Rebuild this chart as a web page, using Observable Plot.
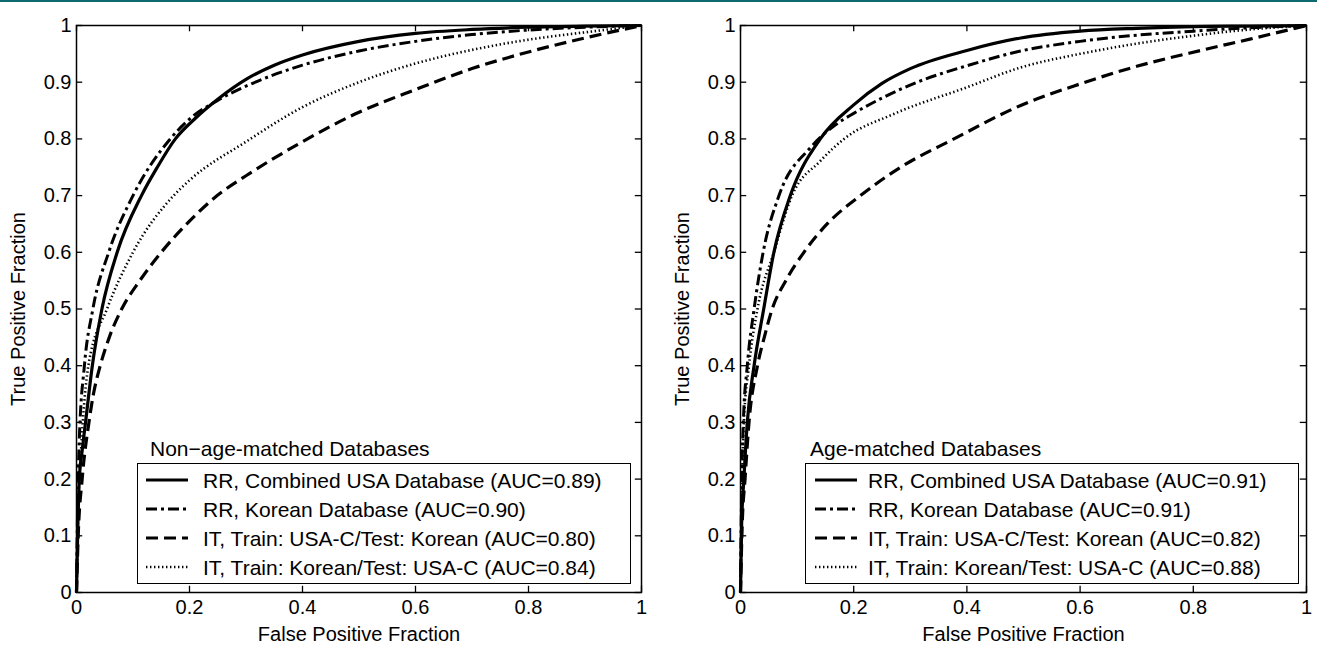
<!DOCTYPE html>
<html>
<head>
<meta charset="utf-8">
<script src="https://cdn.jsdelivr.net/npm/d3@7"></script>
<script src="https://cdn.jsdelivr.net/npm/@observablehq/plot@0.6"></script>
<style>
  html, body { margin: 0; padding: 0; background: #fff; }
  #wrap { position: relative; width: 1317px; height: 648px; overflow: hidden; background: #fff;
          font-family: "Liberation Sans", Arial, Helvetica, sans-serif; color: #000; }
  #topline { position: absolute; left: 0; top: 0; width: 1317px; height: 2px; background: #0d6a71; }
  .panel { position: absolute; top: 0; }
  .legend-title { position: absolute; font-size: 21px; white-space: nowrap; line-height: 1; }
  .legend-box { position: absolute; border: 1.4px solid #000; background: #fff; box-sizing: border-box; }
  .legend-row { position: absolute; height: 24px; display: flex; align-items: center;
                font-size: 21px; white-space: nowrap; line-height: 1; }
  .legend-row svg { display: block; }
</style>
</head>
<body>
<div id="wrap"><div id="topline"></div></div>
<script>
// ---------- axis / text data ----------
const xTicks = [0, 0.2, 0.4, 0.6, 0.8, 1];
const yTicks = [0, 0.1, 0.2, 0.3, 0.4, 0.5, 0.6, 0.7, 0.8, 0.9, 1];
const xLabel = "False Positive Fraction";
const yLabel = "True Positive Fraction";
const seriesKeys = ["rrCombined", "rrKorean", "itUsaTrain", "itKoreanTrain"];

const leftTitle = "Non\u2212age-matched Databases";
const leftLabels = [
  "RR, Combined USA Database (AUC=0.89)",
  "RR, Korean Database (AUC=0.90)",
  "IT, Train: USA-C/Test: Korean (AUC=0.80)",
  "IT, Train: Korean/Test: USA-C (AUC=0.84)"
];
const rightTitle = "Age-matched Databases";
const rightLabels = [
  "RR, Combined USA Database (AUC=0.91)",
  "RR, Korean Database (AUC=0.91)",
  "IT, Train: USA-C/Test: Korean (AUC=0.82)",
  "IT, Train: Korean/Test: USA-C (AUC=0.88)"
];

// ---------- Non-age-matched (left) ----------
const nmCombinedFpf = [0, 0.002, 0.005, 0.01, 0.016, 0.028, 0.045, 0.072, 0.115, 0.143, 0.175, 0.21, 0.25, 0.3, 0.35, 0.4, 0.5, 0.6, 0.7, 0.8, 0.9, 1];
const nmCombinedTpf = [0, 0.1, 0.2, 0.25, 0.3, 0.4, 0.5, 0.6, 0.7, 0.75, 0.8, 0.836, 0.87, 0.905, 0.93, 0.948, 0.972, 0.986, 0.993, 0.997, 0.999, 1];

const nmKoreanFpf = [0, 0.002, 0.005, 0.014, 0.029, 0.057, 0.1, 0.166, 0.2, 0.25, 0.3, 0.4, 0.5, 0.6, 0.7, 0.8, 0.9, 1];
const nmKoreanTpf = [0, 0.15, 0.27, 0.4, 0.5, 0.6, 0.7, 0.8, 0.835, 0.868, 0.893, 0.93, 0.955, 0.972, 0.984, 0.992, 0.997, 1];

const nmUsaTrainFpf = [0, 0.003, 0.01, 0.022, 0.03, 0.042, 0.058, 0.08, 0.112, 0.15, 0.2, 0.249, 0.3, 0.391, 0.5, 0.6, 0.7, 0.81, 0.9, 1];
const nmUsaTrainTpf = [0, 0.1, 0.2, 0.3, 0.35, 0.4, 0.45, 0.5, 0.55, 0.6, 0.655, 0.7, 0.735, 0.79, 0.847, 0.887, 0.924, 0.956, 0.978, 1];

const nmKoreanTrainFpf = [0, 0.003, 0.008, 0.021, 0.054, 0.1, 0.172, 0.2, 0.3, 0.4, 0.5, 0.6, 0.7, 0.8, 0.9, 1];
const nmKoreanTrainTpf = [0, 0.15, 0.25, 0.4, 0.5, 0.6, 0.7, 0.727, 0.795, 0.856, 0.9, 0.933, 0.957, 0.975, 0.988, 1];

// ---------- Age-matched (right) ----------
const amCombinedFpf = [0, 0.002, 0.006, 0.012, 0.024, 0.041, 0.059, 0.088, 0.141, 0.2, 0.25, 0.3, 0.4, 0.495, 0.6, 0.7, 0.8, 0.9, 1];
const amCombinedTpf = [0, 0.12, 0.2, 0.3, 0.4, 0.5, 0.6, 0.7, 0.8, 0.86, 0.898, 0.924, 0.956, 0.978, 0.99, 0.995, 0.998, 0.999, 1];

const amKoreanFpf = [0, 0.002, 0.005, 0.012, 0.024, 0.04, 0.068, 0.124, 0.171, 0.2, 0.25, 0.312, 0.4, 0.495, 0.6, 0.7, 0.8, 0.9, 1];
const amKoreanTpf = [0, 0.18, 0.3, 0.4, 0.5, 0.6, 0.7, 0.785, 0.827, 0.845, 0.872, 0.9, 0.929, 0.955, 0.972, 0.983, 0.99, 0.996, 1];

const amUsaTrainFpf = [0, 0.003, 0.008, 0.015, 0.03, 0.042, 0.056, 0.08, 0.112, 0.153, 0.212, 0.283, 0.377, 0.495, 0.6, 0.7, 0.813, 0.9, 1];
const amUsaTrainTpf = [0, 0.12, 0.2, 0.3, 0.4, 0.45, 0.5, 0.55, 0.6, 0.65, 0.7, 0.75, 0.8, 0.859, 0.897, 0.928, 0.956, 0.976, 1];

const amKoreanTrainFpf = [0, 0.002, 0.006, 0.015, 0.03, 0.059, 0.091, 0.14, 0.183, 0.271, 0.4, 0.495, 0.6, 0.7, 0.8, 0.9, 1];
const amKoreanTrainTpf = [0, 0.15, 0.3, 0.4, 0.5, 0.6, 0.7, 0.76, 0.8, 0.844, 0.891, 0.926, 0.95, 0.968, 0.982, 0.993, 1];

// ---------- styles (kept apart from data) ----------
const lineStyles = {
  rrCombined:    { width: 3.2, dash: null },
  rrKorean:      { width: 3,   dash: "11,4,3,4" },
  itUsaTrain:    { width: 3.2, dash: "12,6" },
  itKoreanTrain: { width: 2.6, dash: "1.4,2.6" }
};

const FONT = '"Liberation Sans", Arial, Helvetica, sans-serif';

function table(fpf, tpf) { return fpf.map((f, i) => ({ fpf: f, tpf: tpf[i] })); }

const leftSeries = {
  rrCombined: table(nmCombinedFpf, nmCombinedTpf),
  rrKorean: table(nmKoreanFpf, nmKoreanTpf),
  itUsaTrain: table(nmUsaTrainFpf, nmUsaTrainTpf),
  itKoreanTrain: table(nmKoreanTrainFpf, nmKoreanTrainTpf)
};
const rightSeries = {
  rrCombined: table(amCombinedFpf, amCombinedTpf),
  rrKorean: table(amKoreanFpf, amKoreanTpf),
  itUsaTrain: table(amUsaTrainFpf, amUsaTrainTpf),
  itKoreanTrain: table(amKoreanTrainFpf, amKoreanTrainTpf)
};

const fmt = d => String(d);
const tickLen = 0.011;

function makePlot(series, layout) {
  const marks = [];
  // inward ticks on all four sides
  marks.push(Plot.ruleX(xTicks, { x: d => d, y1: 0, y2: tickLen, stroke: "black", strokeWidth: 1.3 }));
  marks.push(Plot.ruleX(xTicks, { x: d => d, y1: 1 - tickLen, y2: 1, stroke: "black", strokeWidth: 1.3 }));
  marks.push(Plot.ruleY(yTicks, { y: d => d, x1: 0, x2: tickLen, stroke: "black", strokeWidth: 1.3 }));
  marks.push(Plot.ruleY(yTicks, { y: d => d, x1: 1 - tickLen, x2: 1, stroke: "black", strokeWidth: 1.3 }));
  // curves (draw lighter styles first)
  ["itKoreanTrain", "itUsaTrain", "rrKorean", "rrCombined"].forEach(k => {
    const st = lineStyles[k];
    marks.push(Plot.line(series[k], {
      x: "fpf", y: "tpf", stroke: "black", strokeWidth: st.width,
      strokeDasharray: st.dash, strokeLinecap: "butt", strokeLinejoin: "round", curve: "monotone-x"
    }));
  });
  marks.push(Plot.frame({ stroke: "black", strokeWidth: 1.5 }));
  marks.push(Plot.axisX(xTicks, {
    anchor: "bottom", tickSize: 0, tickPadding: 7, tickFormat: fmt, fontSize: 20,
    label: xLabel, labelAnchor: "center", labelOffset: 48, labelArrow: "none"
  }));
  marks.push(Plot.axisY(yTicks, {
    anchor: "left", tickSize: 0, tickPadding: 5, tickFormat: fmt, fontSize: 20,
    label: yLabel, labelAnchor: "center", labelOffset: 66, labelArrow: "none"
  }));
  return Plot.plot({
    width: layout.width, height: 648,
    marginLeft: layout.marginLeft, marginRight: layout.marginRight,
    marginTop: 25, marginBottom: 56,
    x: { domain: [0, 1] }, y: { domain: [0, 1] },
    style: { fontFamily: FONT, fontSize: "20px", color: "black", background: "transparent", overflow: "visible" },
    marks
  });
}

function sampleSvg(key) {
  const st = lineStyles[key];
  const ns = "http://www.w3.org/2000/svg";
  const svg = document.createElementNS(ns, "svg");
  svg.setAttribute("width", 42); svg.setAttribute("height", 20);
  const ln = document.createElementNS(ns, "line");
  ln.setAttribute("x1", 0); ln.setAttribute("x2", 42);
  ln.setAttribute("y1", 10); ln.setAttribute("y2", 10);
  ln.setAttribute("stroke", "black");
  ln.setAttribute("stroke-width", st.width);
  if (st.dash) ln.setAttribute("stroke-dasharray", st.dash);
  svg.appendChild(ln);
  return svg;
}

function makeLegend(parent, title, labels, pos) {
  const t = document.createElement("div");
  t.className = "legend-title";
  t.textContent = title;
  t.style.left = pos.titleX + "px"; t.style.top = pos.titleY + "px";
  parent.appendChild(t);
  const box = document.createElement("div");
  box.className = "legend-box";
  box.style.left = pos.x + "px"; box.style.top = pos.y + "px";
  box.style.width = pos.w + "px"; box.style.height = pos.h + "px";
  seriesKeys.forEach((k, i) => {
    const row = document.createElement("div");
    row.className = "legend-row";
    row.style.top = (pos.rowTop + i * pos.rowStep) + "px";
    row.style.left = pos.rowLeft + "px";
    row.appendChild(sampleSvg(k));
    const s = document.createElement("span");
    s.style.marginLeft = pos.gap + "px";
    s.textContent = labels[i];
    row.appendChild(s);
    box.appendChild(row);
  });
  parent.appendChild(box);
}

const wrap = document.getElementById("wrap");

const left = makePlot(leftSeries, { width: 660, marginLeft: 76, marginRight: 19 });
left.classList.add("panel"); left.style.left = "0px";
wrap.appendChild(left);

const right = makePlot(rightSeries, { width: 657, marginLeft: 80, marginRight: 11 });
right.classList.add("panel"); right.style.left = "660px";
wrap.appendChild(right);

makeLegend(wrap, leftTitle, leftLabels, { titleX: 150, titleY: 438, x: 137, y: 463, w: 494, h: 121, rowLeft: 8, rowTop: 4, rowStep: 29, gap: 15 });
makeLegend(wrap, rightTitle, rightLabels, { titleX: 810, titleY: 438, x: 805, y: 463, w: 494, h: 121, rowLeft: 9, rowTop: 4, rowStep: 29, gap: 11 });
</script>
</body>
</html>
